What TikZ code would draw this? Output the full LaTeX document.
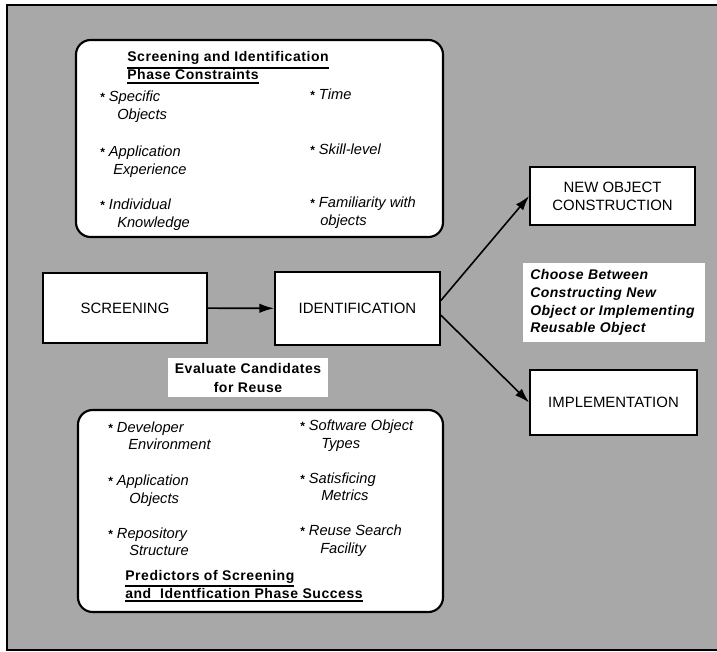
\documentclass[tikz,border=0pt]{standalone}
\usepackage{fontspec}
\setmainfont{Liberation Sans}
\usetikzlibrary{arrows.meta}
\definecolor{bg}{gray}{0.66}
\newcommand\bul{{\upshape\bfseries\fontsize{9}{9}\selectfont*}\hspace{3pt}}
\newcommand\tul[1]{\vtop{\hbox{#1}\kern1.6pt\hrule height 1.1pt}}
\begin{document}
\begin{tikzpicture}[x=0.75pt,y=-0.75pt,
  rbox/.style={draw=black, line width=1.6pt, fill=white, rounded corners=11pt, inner sep=0pt},
  sbox/.style={draw=black, line width=1.3pt, fill=white, inner sep=0pt, align=center,
     font=\fontsize{11.2}{13.5}\selectfont},
  wbox/.style={fill=white, draw=none, inner sep=0pt},
  itm/.style={anchor=base west, inner sep=0pt, font=\fontsize{11}{13.5}\selectfont\itshape},
  ttl/.style={anchor=base west, inner sep=0pt, font=\fontsize{10.5}{13.5}\selectfont\bfseries\addfontfeature{LetterSpace=4}},
  chs/.style={anchor=base west, inner sep=0pt, font=\fontsize{10.5}{13.5}\selectfont\bfseries\itshape\addfontfeature{LetterSpace=3}},
  arr/.style={line width=1.2pt, -{Latex[length=11pt,width=7pt]}}]
\useasboundingbox (0,0) rectangle (717,652);
% background
\draw[line width=1.5pt, fill=bg] (7,5) rectangle (730,650);

% top rounded box
\node[rbox, minimum width=275.25pt, minimum height=147.75pt] (topbox) at (259.5,138.5) {};
\node[ttl] (tt1) at (127,62) {\tul{Screening and Identification}};
\node[ttl] (tt2) at (127,80) {\tul{Phase Constraints}};
\node[itm] (a1) at (100,102) {\bul Specific};
\node[itm] (a2) at (117,120) {Objects};
\node[itm] (a3) at (100,157) {\bul Application};
\node[itm] (a4) at (113,175) {Experience};
\node[itm] (a5) at (100,210) {\bul Individual};
\node[itm] (a6) at (117,228) {Knowledge};
\node[itm] (b1) at (310,100) {\bul Time};
\node[itm] (b2) at (310,155) {\bul Skill-level};
\node[itm] (b3) at (310,208) {\bul Familiarity with};
\node[itm] (b4) at (320,226) {objects};

% process boxes
\node[sbox, minimum width=123pt, minimum height=52.5pt] (scr) at (125,308) {SCREENING};
\node[sbox, minimum width=123.75pt, minimum height=54.75pt] (ide) at (357.5,308.5) {IDENTIFICATION};
\node[sbox, minimum width=123.75pt, minimum height=43.5pt] (new) at (612.5,196) {NEW OBJECT\\CONSTRUCTION};
\node[sbox, minimum width=125.25pt, minimum height=48.75pt] (imp) at (613.5,402.5) {IMPLEMENTATION};

% choose box
\node[wbox, minimum width=136.5pt, minimum height=59.25pt] (chbox) at (614,302.5) {};
\node[chs] (c1) at (530,280) {Choose Between};
\node[chs] (c2) at (530,297) {Constructing New};
\node[chs] (c3) at (530,315) {Object or Implementing};
\node[chs] (c4) at (530,332) {Reusable Object};

% evaluate box
\node[wbox, minimum width=120pt, minimum height=29.25pt] (evbox) at (248,377.5) {};
\node[ttl, anchor=base] (e1) at (248,373) {Evaluate Candidates};
\node[ttl, anchor=base] (e2) at (248,392) {for Reuse};

% arrows
\draw[arr] (scr) -- (ide);
\draw[arr] ([yshift=6pt]ide.east) -- (new.west);
\draw[arr] ([yshift=-5pt]ide.east) -- (imp.west);

% bottom rounded box
\node[rbox, minimum width=273.75pt, minimum height=151.5pt] (botbox) at (260.5,511) {};
\node[itm] (d1) at (108,432) {\bul Developer};
\node[itm] (d2) at (128,449) {Environment};
\node[itm] (d3) at (108,485) {\bul Application};
\node[itm] (d4) at (129,503) {Objects};
\node[itm] (d5) at (108,538) {\bul Repository};
\node[itm] (d6) at (129,555) {Structure};
\node[itm] (f1) at (300,430) {\bul Software Object};
\node[itm] (f2) at (321,448) {Types};
\node[itm] (f3) at (300,483) {\bul Satisficing};
\node[itm] (f4) at (321,500) {Metrics};
\node[itm] (f5) at (300,535) {\bul Reuse Search};
\node[itm] (f6) at (320,553) {Facility};
\node[ttl] (bt1) at (125,580) {\tul{Predictors of Screening}};
\node[ttl] (bt2) at (125,598) {\tul{and\ \ Identfication Phase Success}};
\end{tikzpicture}
\end{document}
